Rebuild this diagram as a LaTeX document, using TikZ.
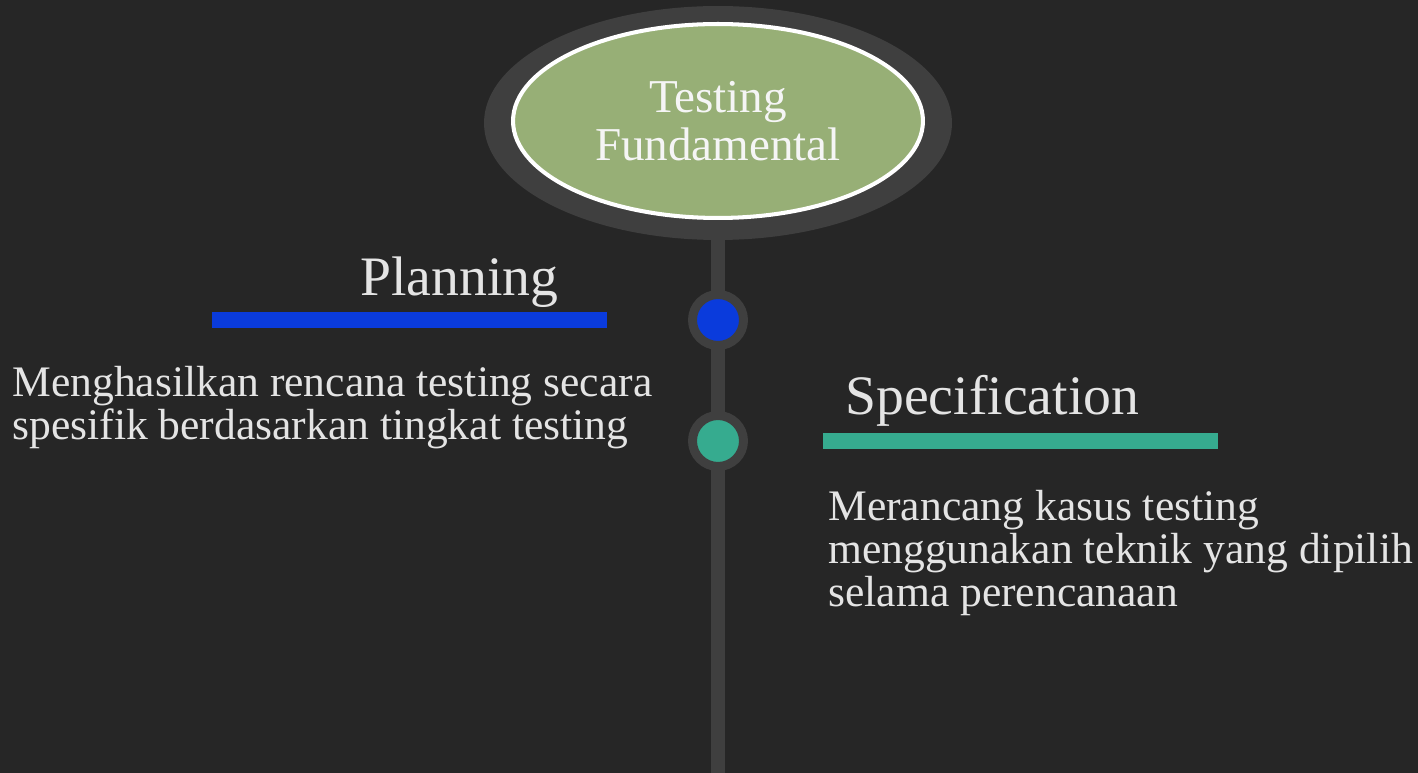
\documentclass[tikz,border=0pt]{standalone}
\usepackage{fontspec}
\setmainfont{Liberation Serif}
\usetikzlibrary{shapes.geometric}
\definecolor{slate}{HTML}{262626}
\definecolor{rail}{HTML}{3F3F3F}
\definecolor{sage}{HTML}{97AF76}
\definecolor{cobalt}{HTML}{0A3BDC}
\definecolor{jade}{HTML}{36AB8F}
\definecolor{chalk}{HTML}{E4E4E4}
\tikzset{
  milestone/.style={circle,draw=rail,line width=5.1pt,minimum size=1.02cm,inner sep=0},
  underbar/.style={rectangle,inner sep=0,minimum width=7.9cm,minimum height=0.32cm},
  heading/.style={inner sep=0,text=chalk,font=\fontsize{31.7}{31.7}\selectfont},
  blurb/.style={inner sep=0,text=chalk,align=left,font=\fontsize{24.8}{24.6}\selectfont},
}
\begin{document}
\begin{tikzpicture}[x=0.02cm,y=-0.02cm]
    \useasboundingbox[fill=slate] (0,0) rectangle (1418,773);
    % hub with its title
    \node[ellipse,fill=rail,minimum width=9.36cm,minimum height=4.68cm,inner sep=0] (hub) at (718,123) {};
    \node[ellipse,fill=sage,draw=white,line width=2.3pt,minimum width=8.2cm,minimum height=3.88cm,
        inner sep=0,align=center,text=white!96!black,font=\fontsize{26.8}{27.2}\selectfont] (topic) at (718,121) {Testing\\Fundamental};
    \coordinate (end) at (718,773);
    \draw[rail,line width=8.5pt] (hub.south) -- (end);
    % stops on the rail
    \node[milestone,fill=cobalt] (plan) at (718,320) {};
    \node[milestone,fill=jade] (spec) at (718,441) {};
    \node[underbar,fill=cobalt,anchor=east] (planbar) at (607,320) {};
    \node[underbar,fill=jade,anchor=west] (specbar) at (823,441) {};
    % texts
    \node[heading,anchor=base west] (planhead) at (360,296) {Planning};
    \node[heading,anchor=base west] (spechead) at (845,415) {Specification};
    \node[blurb,anchor=base west] (plantext) at (12,440) {Menghasilkan rencana testing secara\\spesifik berdasarkan tingkat testing};
    \node[blurb,anchor=base west] (spectext) at (828,607) {Merancang kasus testing\\menggunakan teknik yang dipilih\\selama perencanaan};
\end{tikzpicture}
\end{document}
